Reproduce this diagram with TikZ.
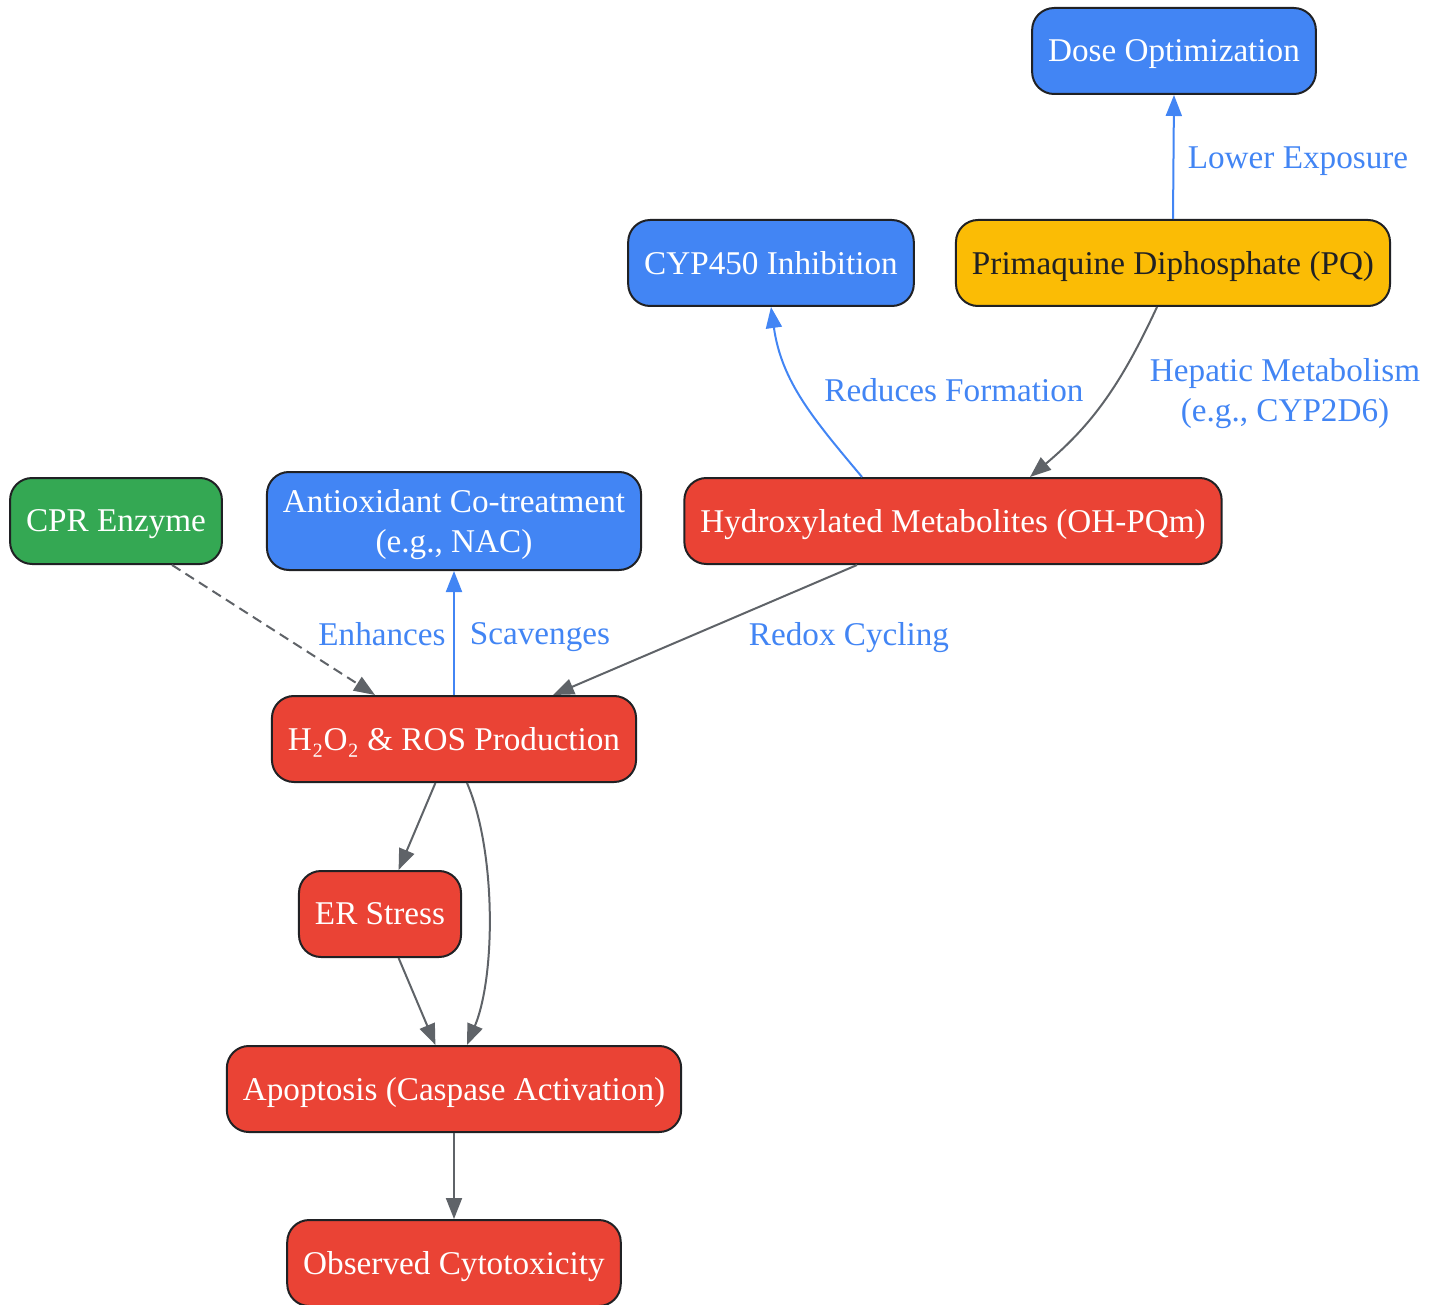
\documentclass[tikz,border=0pt]{standalone}
\usepackage{fontspec}
\setmainfont{Liberation Serif}
\usetikzlibrary{arrows.meta}
\definecolor{gblue}{HTML}{4285F4}
\definecolor{gred}{HTML}{EA4335}
\definecolor{gyellow}{HTML}{FBBC05}
\definecolor{ggreen}{HTML}{34A853}
\definecolor{edgegray}{HTML}{5F6368}
\definecolor{borderdark}{HTML}{202124}
\tikzset{
  box/.style={draw=borderdark, line width=1pt, rounded corners=11pt, minimum height=43pt,
    inner xsep=8pt, align=center, text depth=0pt, font=\fontsize{16.6}{20}\selectfont},
  edge/.style={draw=edgegray, line width=1pt, -{Triangle[length=10.5pt,width=8pt]}},
  bedge/.style={edge, draw=gblue},
  lbl/.style={text=gblue, align=center, inner sep=0pt, text depth=0pt, font=\fontsize{16.6}{20}\selectfont}
}
\newcommand{\procbox}[7][]{\node[box,fill=#5,text=#6,#1] (#2) at ( #3 , #4 ) {#7};}
\newcommand{\edgelabel}[4]{\node[lbl] (#1) at ( #2 , #3 ) {#4};}

\begin{document}
\begin{tikzpicture}[x=0.5pt,y=-0.5pt]
        \useasboundingbox (0,0) rectangle (1441,1305);
        % top row
        \procbox{dose}{1174}{51}{gblue}{white}{Dose Optimization}
        \procbox{cyp}{771}{263}{gblue}{white}{CYP450 Inhibition}
        \procbox{pq}{1173}{263}{gyellow}{borderdark}{Primaquine Diphosphate (PQ)}
        % middle row
        \procbox{cpr}{116}{521}{ggreen}{white}{CPR Enzyme}
        \procbox[minimum height=49pt]{anti}{454}{521}{gblue}{white}{Antioxidant Co-treatment\\(e.g., NAC)}
        \procbox{hyd}{953}{521}{gred}{white}{Hydroxylated Metabolites (OH-PQm)}
        % lower chain
        \procbox{ros}{454}{739}{gred}{white}{H₂O₂ \& ROS Production}
        \procbox{er}{380}{914}{gred}{white}{ER Stress}
        \procbox{apo}{454}{1089}{gred}{white}{Apoptosis (Caspase Activation)}
        \procbox{cyto}{454}{1263}{gred}{white}{Observed Cytotoxicity}

        % edges
        \draw[bedge] (pq.north) -- (dose.south);
        \draw[edge] ([xshift=-8pt]pq.south) to[out=-115,in=40] ([xshift=38.5pt]hyd.north);
        \draw[bedge] ([xshift=-45.5pt]hyd.north) to[out=130,in=-82] (cyp.south);
        \draw[edge] ([xshift=-48pt]hyd.south) -- ([xshift=49.5pt]ros.north);
        \draw[edge, dash pattern=on 5pt off 3pt] ([xshift=28pt]cpr.south) -- ([xshift=-39.5pt]ros.north);
        \draw[bedge] (ros) -- (anti);
        \draw[edge] (ros) -- (er);
        \draw[edge] ([xshift=6.5pt]ros.south) .. controls (496,850) and (496,975) .. ([xshift=6.5pt]apo.north);
        \draw[edge] (er) -- (apo);
        \draw[edge] (apo) -- (cyto);

        % labels
        \edgelabel{lexp}{1298}{158}{Lower Exposure}
        \edgelabel{lhep}{1285}{390}{Hepatic Metabolism\\(e.g., CYP2D6)}
        \edgelabel{lred}{954}{390}{Reduces Formation}
        \edgelabel{lrdx}{849}{634}{Redox Cycling}
        \edgelabel{lenh}{382}{634}{Enhances}
        \edgelabel{lsca}{540}{634}{Scavenges}
\end{tikzpicture}
\end{document}
